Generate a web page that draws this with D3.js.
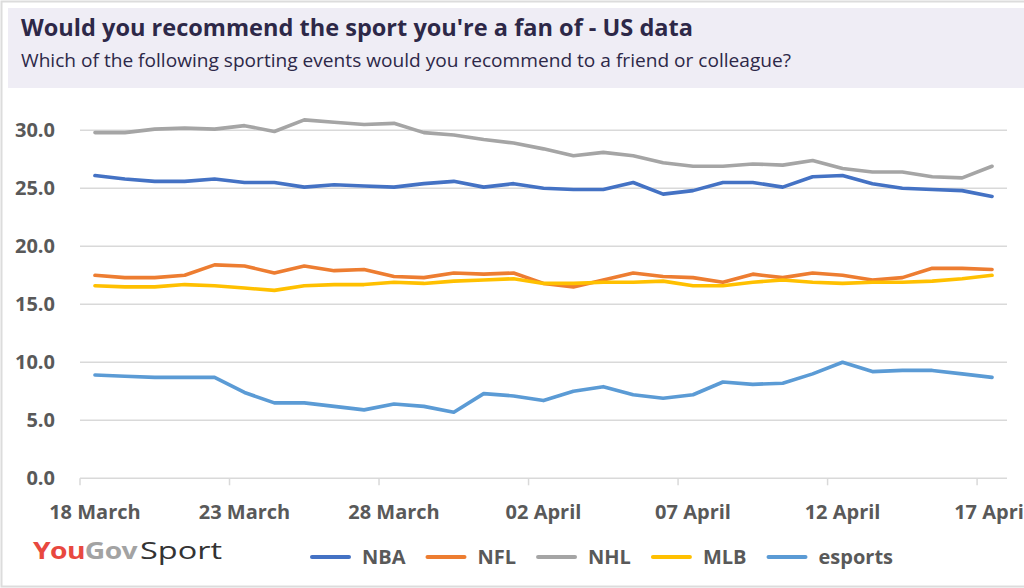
<!doctype html>
<html>
<head>
<meta charset="utf-8">
<script src="https://cdn.jsdelivr.net/npm/d3@7"></script>
<style>
  body { margin: 0; background: #fff; }
  svg { display: block; font-family: "Open Sans", sans-serif; }
</style>
</head>
<body>
<svg width="1024" height="588"></svg>
<script>
// categories: one per day, 18 March to 17 April
var days = ["18 Mar","19 Mar","20 Mar","21 Mar","22 Mar","23 Mar","24 Mar","25 Mar","26 Mar","27 Mar",
            "28 Mar","29 Mar","30 Mar","31 Mar","01 Apr","02 Apr","03 Apr","04 Apr","05 Apr","06 Apr",
            "07 Apr","08 Apr","09 Apr","10 Apr","11 Apr","12 Apr","13 Apr","14 Apr","15 Apr","16 Apr","17 Apr"];
var tickLabels = ["18 March","23 March","28 March","02 April","07 April","12 April","17 April"];
var yTicks = [0, 5, 10, 15, 20, 25, 30];

var nba = [26.1, 25.8, 25.6, 25.6, 25.8, 25.5, 25.5, 25.1, 25.3, 25.2, 25.1, 25.4, 25.6, 25.1, 25.4, 25.0,
           24.9, 24.9, 25.5, 24.5, 24.8, 25.5, 25.5, 25.1, 26.0, 26.1, 25.4, 25.0, 24.9, 24.8, 24.3];
var nfl = [17.5, 17.3, 17.3, 17.5, 18.4, 18.3, 17.7, 18.3, 17.9, 18.0, 17.4, 17.3, 17.7, 17.6, 17.7, 16.8,
           16.5, 17.1, 17.7, 17.4, 17.3, 16.9, 17.6, 17.3, 17.7, 17.5, 17.1, 17.3, 18.1, 18.1, 18.0];
var nhl = [29.8, 29.8, 30.1, 30.2, 30.1, 30.4, 29.9, 30.9, 30.7, 30.5, 30.6, 29.8, 29.6, 29.2, 28.9, 28.4,
           27.8, 28.1, 27.8, 27.2, 26.9, 26.9, 27.1, 27.0, 27.4, 26.7, 26.4, 26.4, 26.0, 25.9, 26.9];
var mlb = [16.6, 16.5, 16.5, 16.7, 16.6, 16.4, 16.2, 16.6, 16.7, 16.7, 16.9, 16.8, 17.0, 17.1, 17.2, 16.8,
           16.8, 16.9, 16.9, 17.0, 16.6, 16.6, 16.9, 17.1, 16.9, 16.8, 16.9, 16.9, 17.0, 17.2, 17.5];
var esports = [8.9, 8.8, 8.7, 8.7, 8.7, 7.4, 6.5, 6.5, 6.2, 5.9, 6.4, 6.2, 5.7, 7.3, 7.1, 6.7,
               7.5, 7.9, 7.2, 6.9, 7.2, 8.3, 8.1, 8.2, 9.0, 10.0, 9.2, 9.3, 9.3, 9.0, 8.7];

var seriesNames = ["NBA", "NFL", "NHL", "MLB", "esports"];
var seriesValues = [nba, nfl, nhl, mlb, esports];
var colors = ["#4472C4", "#ED7D31", "#A5A5A5", "#FFC000", "#5B9BD5"];

var svg = d3.select("svg");
var grey = "#d9d9d9", labelColor = "#595959";

// frame
svg.append("rect").attr("x", 1.5).attr("y", 1.5).attr("width", 1030).attr("height", 585)
   .attr("fill", "#fff").attr("stroke", "#dcdcdc").attr("stroke-width", 2);

// header band
svg.append("rect").attr("x", 8).attr("y", 8).attr("width", 1016).attr("height", 80).attr("fill", "#efedf5");
svg.append("text").attr("x", 21).attr("y", 36)
   .attr("textLength", 672).attr("lengthAdjust", "spacingAndGlyphs")
   .style("font-size", "24px").style("font-weight", "bold").style("fill", "#2d2848")
   .text("Would you recommend the sport you're a fan of - US data");
svg.append("text").attr("x", 21).attr("y", 67)
   .attr("textLength", 770).attr("lengthAdjust", "spacingAndGlyphs")
   .style("font-size", "18px").style("fill", "#2d2848")
   .text("Which of the following sporting events would you recommend to a friend or colleague?");

// scales
var x = d3.scaleBand().domain(days).range([80, 1007]).padding(0);
var y = d3.scaleLinear().domain([0, 30]).range([478.3, 130.3]);
var cx = function (d) { return x(d) + x.bandwidth() / 2; };

// gridlines
svg.append("g").selectAll("line").data(yTicks).enter().append("line")
   .attr("x1", 80).attr("x2", 1007)
   .attr("y1", function (d) { return y(d); }).attr("y2", function (d) { return y(d); })
   .attr("stroke", grey).attr("stroke-width", 1.5);

// y labels
svg.append("g").selectAll("text").data(yTicks).enter().append("text")
   .attr("x", 55).attr("y", function (d) { return y(d) + 7; })
   .attr("text-anchor", "end")
   .style("font-size", "20px").style("font-weight", "bold").style("fill", labelColor)
   .text(function (d) { return d.toFixed(1); });

// x tick marks at category boundaries, every 5 days
var tickDays = days.filter(function (d, i) { return i % 5 === 0; });
svg.append("g").selectAll("line").data(tickDays).enter().append("line")
   .attr("x1", function (d) { return x(d); }).attr("x2", function (d) { return x(d); })
   .attr("y1", y(0)).attr("y2", y(0) + 7)
   .attr("stroke", grey).attr("stroke-width", 1.5);

// x labels
svg.append("g").selectAll("text").data(tickDays).enter().append("text")
   .attr("x", function (d) { return cx(d); }).attr("y", 519)
   .attr("text-anchor", "middle")
   .style("font-size", "20px").style("font-weight", "bold").style("fill", labelColor)
   .text(function (d, i) { return tickLabels[i]; });

// lines
var line = d3.line()
   .x(function (d, i) { return cx(days[i]); })
   .y(function (d) { return y(d); });

svg.append("g").selectAll("path").data(seriesValues).enter().append("path")
   .attr("d", line)
   .attr("fill", "none")
   .attr("stroke", function (d, i) { return colors[i]; })
   .attr("stroke-width", 3.6)
   .attr("stroke-linejoin", "round")
   .attr("stroke-linecap", "round");

// legend
var lx = 312;
seriesNames.forEach(function (name, i) {
    svg.append("line").attr("x1", lx).attr("x2", lx + 37).attr("y1", 557).attr("y2", 557)
       .attr("stroke", colors[i]).attr("stroke-width", 4).attr("stroke-linecap", "round");
    var t = svg.append("text").attr("x", lx + 50).attr("y", 564)
       .style("font-size", "20px").style("font-weight", "bold").style("fill", labelColor)
       .text(name);
    lx += 50 + t.node().getComputedTextLength() + 22;
});

// logo
svg.append("text").attr("x", 33).attr("y", 559)
   .attr("textLength", 104).attr("lengthAdjust", "spacingAndGlyphs")
   .style("font-size", "23px").style("font-weight", "bold").style("letter-spacing", "-0.5px")
   .html('<tspan fill="#e8483f">You</tspan><tspan fill="#a3a3a3">Gov</tspan>');
svg.append("text").attr("x", 140).attr("y", 559)
   .attr("textLength", 82).attr("lengthAdjust", "spacingAndGlyphs")
   .style("font-size", "24px").style("fill", "#333")
   .text("Sport");
</script>
</body>
</html>
